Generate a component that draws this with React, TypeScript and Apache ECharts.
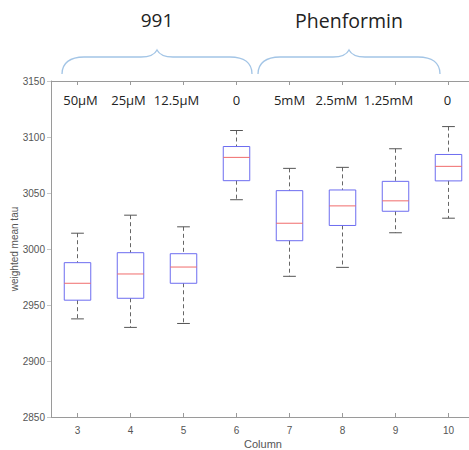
import React, { useEffect, useRef } from "react";
import * as echarts from "echarts";

const columns = ["3", "4", "5", "6", "7", "8", "9", "10"];
const concLabels = ["50µM", "25µM", "12.5µM", "0", "5mM", "2.5mM", "1.25mM", "0"];
const labelShift = [3, -2, -7, 0, 0, -6, -7, -1];
const whiskerLow = [2937.6, 2930, 2933.5, 3044, 2975.6, 2983.6, 3014.5, 3027.5];
const q1 = [2954.3, 2956, 2969.4, 3061, 3007.4, 3021, 3033.7, 3060.8];
const median = [2969.4, 2977.7, 2983.9, 3081.8, 3023, 3038.5, 3043, 3073.8];
const q3 = [2987.8, 2996.7, 2995.8, 3091.5, 3052.1, 3052.7, 3060.4, 3084.4];
const whiskerHigh = [3014.1, 3030.2, 3019.8, 3105.8, 3072, 3072.9, 3089.5, 3109.3];
const groups = ["991", "Phenformin"];

function bracePath(W: number, h: number, flat: number): string {
  const c = W / 2;
  return `M0,${h} C0,${flat + 6} 8,${flat} 22,${flat} L${c - 16},${flat} C${c - 6},${flat} ${c - 2},${flat - 3} ${c},0 C${c + 2},${flat - 3} ${c + 6},${flat} ${c + 16},${flat} L${W - 22},${flat} C${W - 8},${flat} ${W},${flat + 6} ${W},${h}`;
}

echarts.graphic.registerShape("braceL", echarts.graphic.extendPath(bracePath(190, 24, 7), {}));
echarts.graphic.registerShape("braceR", echarts.graphic.extendPath(bracePath(182, 24, 7), {}));

export default function App() {
  const ref = useRef<HTMLDivElement>(null);
  useEffect(() => {
    if (!ref.current) return;
    const chart = echarts.init(ref.current, undefined, { renderer: "svg" });
    const axisColor = "#9a9a9a";
    const textColor = "#555";
    const data = columns.map((c, i) => [i, whiskerLow[i], q1[i], median[i], q3[i], whiskerHigh[i]]);
    chart.setOption({
      animation: false,
      grid: { left: 51, top: 81, width: 424, bottom: 33, containLabel: false, outerBoundsMode: "none" },
      xAxis: [
        {
          type: "category",
          data: columns,
          position: "bottom",
          boundaryGap: true,
          axisLine: { show: true, lineStyle: { color: axisColor, width: 1 } },
          axisTick: { show: true, inside: true, alignWithLabel: true, length: 4, lineStyle: { color: axisColor } },
          axisLabel: { color: textColor, fontSize: 10, fontFamily: "Liberation Sans", margin: 8 },
          splitLine: { show: false },
          name: "Column",
          nameLocation: "middle",
          nameGap: 21,
          nameMoveOverlap: false,
          nameTextStyle: { color: textColor, fontSize: 11, fontFamily: "Liberation Sans" },
        },
        {
          type: "category",
          data: concLabels,
          position: "top",
          boundaryGap: true,
          axisLine: { show: true, lineStyle: { color: axisColor, width: 1 } },
          axisTick: { show: true, inside: true, alignWithLabel: true, length: 4, lineStyle: { color: axisColor } },
          axisLabel: {
            inside: true,
            margin: 12,
            interval: 0,
            formatter: (v: string, i: number) => {
              const s = labelShift[i];
              if (s < 0) return `{l${-s}|${v}}`;
              if (s > 0) return `{r${s}|${v}}`;
              return `{n|${v}}`;
            },
            rich: (() => {
              const base = { color: "#222", fontSize: 13, fontFamily: "Open Sans" };
              const r: any = { n: { ...base } };
              for (let k = 1; k <= 10; k++) {
                r["l" + k] = { ...base, padding: [0, 2 * k, 0, 0] };
                r["r" + k] = { ...base, padding: [0, 0, 0, 2 * k] };
              }
              return r;
            })(),
          },
          splitLine: { show: false },
        },
      ],
      yAxis: {
        type: "value",
        min: 2850,
        max: 3150,
        interval: 50,
        axisLine: { show: true, lineStyle: { color: axisColor, width: 1 } },
        axisTick: { show: true, inside: false, length: 4, lineStyle: { color: "#c8c8c8" } },
        axisLabel: {
          color: textColor,
          fontSize: 10,
          fontFamily: "Liberation Sans",
          margin: 6,
          formatter: (v: number) => String(v),
        },
        splitLine: { show: false },
        name: "weighted mean tau",
        nameLocation: "middle",
        nameGap: 32,
        nameMoveOverlap: false,
        nameTextStyle: { color: textColor, fontSize: 10, fontFamily: "Liberation Sans" },
      },
      graphic: [
        { type: "braceL", x: 62, y: 50, style: { fill: "none", stroke: "#a3c5e6", lineWidth: 1.3 } },
        { type: "braceR", x: 258, y: 50, style: { fill: "none", stroke: "#a3c5e6", lineWidth: 1.3 } },
        {
          type: "text",
          x: 157,
          y: 20,
          style: { text: groups[0], fill: "#222", fontSize: 19, fontFamily: "Open Sans", align: "center", verticalAlign: "middle" },
        },
        {
          type: "text",
          x: 349,
          y: 20,
          style: { text: groups[1], fill: "#222", fontSize: 19.5, fontFamily: "Open Sans", align: "center", verticalAlign: "middle" },
        },
      ],
      series: [
        {
          type: "custom",
          xAxisIndex: 0,
          yAxisIndex: 0,
          data,
          encode: { x: 0, y: [1, 2, 3, 4, 5] },
          renderItem: (params: any, api: any) => {
            const idx = api.value(0);
            const pMin = api.coord([idx, api.value(1)]);
            const pQ1 = api.coord([idx, api.value(2)]);
            const pMed = api.coord([idx, api.value(3)]);
            const pQ3 = api.coord([idx, api.value(4)]);
            const pMax = api.coord([idx, api.value(5)]);
            const band = api.size([1, 0])[0];
            const bw = band * 0.5;
            const cw = band * 0.24;
            const x = pMed[0];
            const dash = { stroke: "#666", lineWidth: 1, lineDash: [4, 3] };
            const cap = { stroke: "#555", lineWidth: 1 };
            return {
              type: "group",
              children: [
                { type: "line", shape: { x1: x, y1: pMax[1], x2: x, y2: pQ3[1] }, style: dash },
                { type: "line", shape: { x1: x, y1: pQ1[1], x2: x, y2: pMin[1] }, style: dash },
                { type: "line", shape: { x1: x - cw / 2, y1: pMax[1], x2: x + cw / 2, y2: pMax[1] }, style: cap },
                { type: "line", shape: { x1: x - cw / 2, y1: pMin[1], x2: x + cw / 2, y2: pMin[1] }, style: cap },
                {
                  type: "rect",
                  shape: { x: x - bw / 2, y: pQ3[1], width: bw, height: pQ1[1] - pQ3[1] },
                  style: { fill: "none", stroke: "#6c6cf0", lineWidth: 1 },
                },
                { type: "line", shape: { x1: x - bw / 2, y1: pMed[1], x2: x + bw / 2, y2: pMed[1] }, style: { stroke: "#f06c6c", lineWidth: 1 } },
              ],
            };
          },
        },
      ],
    });
    return () => chart.dispose();
  }, []);
  return <div ref={ref} style={{ position: "absolute", left: 0, top: 0, width: 469, height: 450 }} />;
}
